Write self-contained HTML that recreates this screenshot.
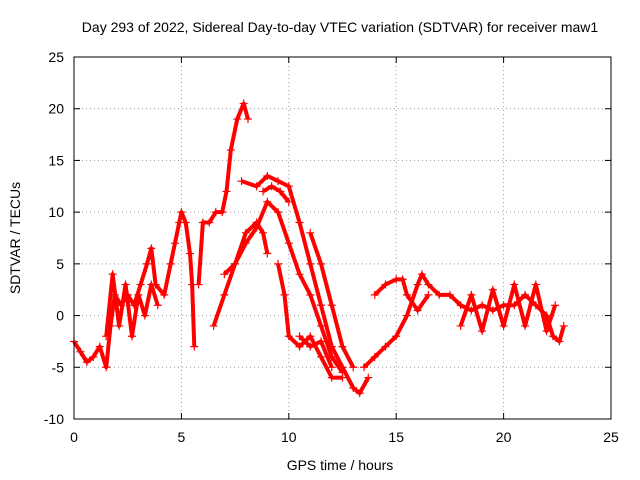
<!DOCTYPE html>
<html><head><meta charset="utf-8"><style>
body{margin:0;background:#fff}
svg{display:block;font-family:"Liberation Sans",sans-serif}
</style></head><body>
<svg id="c" width="640" height="480">
<rect width="640" height="480" fill="#fff"/>
<text x="340" y="32" font-size="14" text-anchor="middle">Day 293 of 2022, Sidereal Day-to-day VTEC variation (SDTVAR) for receiver maw1</text>
<text x="340" y="470" font-size="14" text-anchor="middle">GPS time / hours</text>
<text transform="translate(20,238) rotate(-90)" font-size="14" text-anchor="middle">SDTVAR / TECUs</text>
<g id="grid"></g><g id="marks"></g>
<rect x="74" y="57" width="537" height="362" fill="none" stroke="#000"/>
</svg>
<script>
const xTicks=[0,5,10,15,20,25];
const yTicks=[-10,-5,0,5,10,15,20,25];
const track1=[[0,-2.5],[0.3,-3.5],[0.6,-4.5],[0.9,-4],[1.2,-3],[1.5,-5],[1.7,-1],[1.9,2],[2.2,1],[2.5,2],[2.8,1],[3.1,3],[3.4,5],[3.6,6.5],[3.8,3],[4.2,2],[4.5,5],[4.7,7],[4.9,9],[5,10],[5.2,9],[5.4,6],[5.5,3],[5.6,-3]];
const track2=[[5.8,3],[6,9],[6.3,9],[6.6,10],[6.9,10],[7.1,12],[7.3,16],[7.6,19],[7.9,20.5],[8.1,19]];
const track3=[[6.5,-1],[7,2],[7.5,5],[8,8],[8.5,9],[8.8,8],[9,6]];
const track4=[[7.8,13],[8.5,12.5],[9,13.5],[9.5,13],[10,12.5],[10.5,9],[11,5],[11.5,1],[12,-3],[12.5,-5],[13,-7],[13.3,-7.5],[13.7,-6]];
const track5=[[7,4],[7.5,5],[8,7],[8.5,8.5],[9,11],[9.5,10],[10,7],[10.5,4],[11,2],[11.5,-1],[12,-4],[12.5,-5.5]];
const track6=[[9.5,5],[9.8,2],[10,-2],[10.5,-3],[11,-2],[11.5,-4],[12,-6],[12.5,-6]];
const track7=[[11,8],[11.5,5],[12,1],[12.5,-3],[13,-5]];
const track8=[[13.5,-5],[14,-4],[14.5,-3],[15,-2],[15.5,0],[16,3],[16.2,4],[16.5,3],[17,2],[17.5,2],[18,1],[18.5,0.5],[19,1],[19.5,0.5],[20,1],[20.5,1],[21,2],[21.5,1],[22,0],[22.3,-2],[22.6,-2.5],[22.8,-1]];
const track9=[[14,2],[14.5,3],[15,3.5],[15.3,3.5],[15.5,2],[16,0.5],[16.5,2]];
const track10=[[18,-1],[18.5,2],[19,-1.5],[19.5,2.5],[20,-1],[20.5,3],[21,-1],[21.5,3],[22,-1.5],[22.4,1]];
const track11=[[1.5,-2],[1.8,4],[2.1,-1],[2.4,3],[2.7,-2],[3,2],[3.3,0],[3.6,3],[3.9,1]];
const track12=[[8.8,12],[9.2,12.5],[9.6,12],[10,11]];
const track13=[[10.5,-2],[11,-3],[11.5,-2.5],[12,-5]];
const tracks=[track1,track2,track3,track4,track5,track6,track7,track8,track9,track10,track11,track12,track13];
const X0=74,X1=611,Y0=419,Y1=57;
const sx=v=>X0+(v-0)/(25-0)*(X1-X0);
const sy=v=>Y0-(v+10)/35*(Y0-Y1);
const NS='http://www.w3.org/2000/svg';
const grid=document.getElementById('grid'),marks=document.getElementById('marks');
function mk(t,a,p){const e=document.createElementNS(NS,t);for(const k in a)e.setAttribute(k,a[k]);p.appendChild(e);return e;}
xTicks.forEach(v=>{const x=sx(v);
 if(v>0&&v<25){const l=mk('line',{x1:x,x2:x,y1:Y0,y2:Y1,stroke:'#999','stroke-dasharray':'1,3'},grid);
 
 }
 const t=mk('text',{x:x,y:Y0+23,'font-size':14,'text-anchor':'middle'},grid);t.textContent=v;
 
 
 mk('line',{x1:x,x2:x,y1:Y0,y2:Y0-6,stroke:'#000'},grid);mk('line',{x1:x,x2:x,y1:Y1,y2:Y1+6,stroke:'#000'},grid);});
yTicks.forEach(v=>{const y=sy(v);
 if(v>-10&&v<25){const l=mk('line',{x1:X0,x2:X1,y1:y,y2:y,stroke:'#999','stroke-dasharray':'1,3'},grid);
 
 }
 const t=mk('text',{x:X0-10,y:y+5,'font-size':14,'text-anchor':'end'},grid);t.textContent=v;
 
 
 mk('line',{x1:X0,x2:X0+6,y1:y,y2:y,stroke:'#000'},grid);mk('line',{x1:X1,x2:X1-6,y1:y,y2:y,stroke:'#000'},grid);});
tracks.forEach((tr,i)=>{
 const pl=mk('polyline',{points:tr.map(p=>sx(p[0])+','+sy(p[1])).join(' '),fill:'none',stroke:'#f00','stroke-width':4,'stroke-linejoin':'round'},marks);
 
 
 tr.forEach(p=>{const x=sx(p[0]),y=sy(p[1]);
  const m=mk('path',{d:`M${x-4},${y}H${x+4}M${x},${y-4}V${y+4}`,stroke:'#f00','stroke-width':1.2},marks);
  
  });
});
</script>
</body></html>
